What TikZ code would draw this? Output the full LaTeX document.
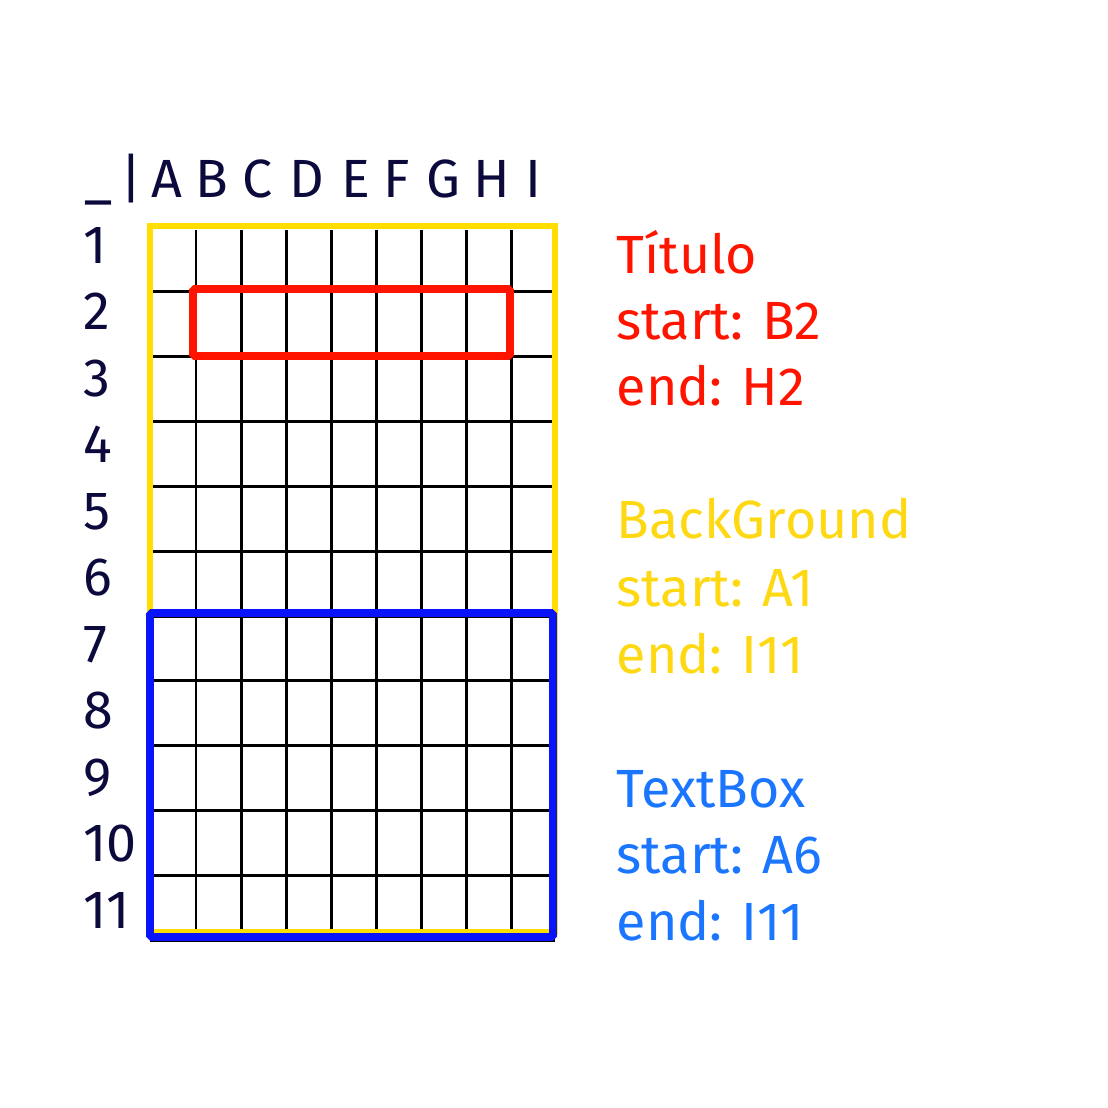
\documentclass[tikz,border=0pt]{standalone}
\usepackage{fontspec}
\setmainfont{Fira Sans}
\usetikzlibrary{positioning}
\definecolor{navy}{RGB}{12,10,60}
\definecolor{titred}{RGB}{255,20,0}
\definecolor{bgyellow}{RGB}{255,222,0}
\definecolor{bgtext}{RGB}{255,216,20}
\definecolor{boxblue}{RGB}{10,20,250}
\definecolor{boxtext}{RGB}{26,117,255}
\newcommand{\bigfont}{\fontsize{15.3}{18}\selectfont}

\begin{document}
\begin{tikzpicture}[x=0.01cm,y=-0.01cm,
    head node/.style={anchor=base,inner sep=0pt,text=navy,font=\bigfont},
    row node/.style={anchor=base west,inner sep=0pt,text=navy,font=\bigfont},
    info node/.style={anchor=base west,inner sep=0pt,font=\bigfont},
    grid line/.style={line width=0.85pt,black}]
   \useasboundingbox (0,0) rectangle (1108,1108);
   % column heads
   \node[head node] (under) at (98,197) {\_};
   \node[head node] (bar) at (131,197) {|};
   \foreach \x/\c in {167/A,212/B,258/C,307/D,356/E,397/F,443/G,492/H,533/I}
      \node[head node] (col\c) at (\x,197) {\c};
   % row numbers
   \foreach \r in {1,...,11}
      \node[row node] (row\r) at (83,{263+66.5*(\r-1)}) {\r};
   % grid
   \foreach \i in {0,...,7}
      \draw[grid line] ({196+45.1*\i},230) -- ({196+45.1*\i},932);
   \foreach \j in {0,...,9}
      \draw[grid line] (153,{291.5+64.9*\j}) -- (552,{291.5+64.9*\j});
   \draw[grid line] (150,940) -- (555,940);
   % areas
   \draw[bgyellow,line width=1.9pt] (150,226) rectangle (555,932);
   \draw[titred,line width=2.2pt,rounded corners=0.5pt] (193,289) rectangle (510,356);
   \draw[boxblue,line width=2.2pt,rounded corners=0.5pt] (150,613) rectangle (553,937);
   % legend
   \node[info node,text=titred] (tit) at (616,273) {Título};
   \node[info node,text=titred] (titstart) at (616,339) {start: B2};
   \node[info node,text=titred] (titend) at (616,405) {end: H2};
   \node[info node,text=bgtext] (bg) at (616,538) {BackGround};
   \node[info node,text=bgtext] (bgstart) at (616,606) {start: A1};
   \node[info node,text=bgtext] (bgend) at (616,673) {end: I11};
   \node[info node,text=boxtext] (tb) at (616,807) {TextBox};
   \node[info node,text=boxtext] (tbstart) at (616,873) {start: A6};
   \node[info node,text=boxtext] (tbend) at (616,940) {end: I11};
\end{tikzpicture}
\end{document}
